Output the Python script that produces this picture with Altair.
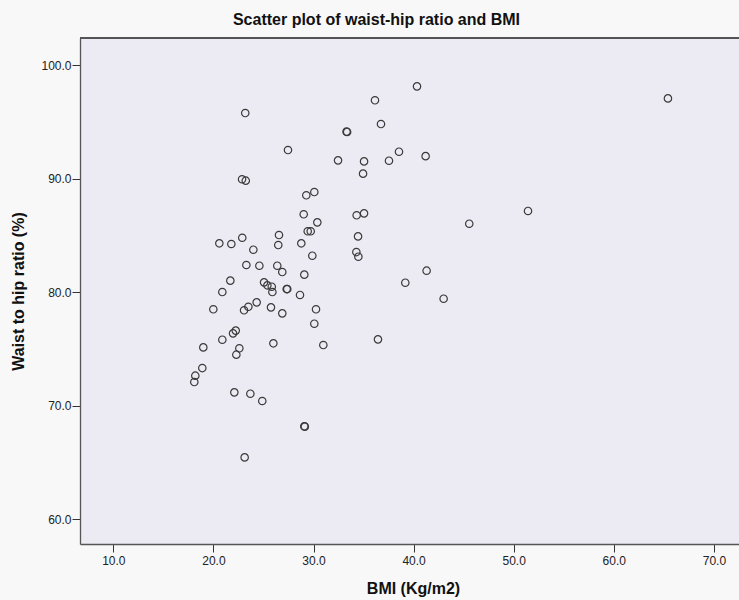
import altair as alt
import pandas as pd

bmi = [23.18, 36.14, 36.74, 33.30, 33.36, 27.45, 38.54, 32.45, 35.05, 37.54,
       34.95, 22.86, 23.23, 29.28, 30.08, 29.02, 30.38, 34.31, 35.05, 29.42,
       29.72, 26.55, 34.45, 22.88, 40.34, 65.41, 41.20, 51.43, 45.56, 34.28,
       34.48, 41.30, 39.17, 43.00, 36.44, 20.59, 21.79, 26.48, 28.78, 23.99,
       29.88, 23.29, 24.59, 26.38, 26.88, 29.08, 21.69, 25.06, 25.39, 25.83,
       25.89, 27.32, 27.38, 28.65, 20.89, 19.99, 23.06, 23.49, 24.32, 25.75,
       26.88, 30.25, 30.08, 21.96, 22.23, 20.89, 25.99, 30.98, 18.99, 22.59,
       22.29, 18.89, 18.19, 18.09, 22.09, 23.69, 24.88, 29.08, 29.13, 23.12]

whr = [95.77, 96.89, 94.80, 94.13, 94.10, 92.51, 92.36, 91.60, 91.51, 91.57,
       90.43, 89.93, 89.81, 88.52, 88.81, 86.85, 86.14, 86.76, 86.93, 85.35,
       85.35, 85.02, 84.90, 84.78, 98.12, 97.06, 91.97, 87.14, 86.02, 83.52,
       83.11, 81.88, 80.82, 79.41, 75.83, 84.29, 84.23, 84.14, 84.29, 83.73,
       83.20, 82.38, 82.32, 82.32, 81.76, 81.53, 81.00, 80.85, 80.59, 80.47,
       80.00, 80.26, 80.26, 79.74, 80.00, 78.48, 78.39, 78.70, 79.09, 78.65,
       78.12, 78.48, 77.21, 76.36, 76.60, 75.80, 75.48, 75.33, 75.12, 75.04,
       74.48, 73.30, 72.63, 72.07, 71.16, 71.04, 70.40, 68.17, 68.14, 65.43]

x_ticks = [10, 20, 30, 40, 50, 60, 70]
y_ticks = [60, 70, 80, 90, 100]

df = pd.DataFrame({"bmi": bmi, "whr": whr})

W, H = 659, 506
FONT = "Liberation Sans"
FRAME = "#555555"

points = alt.Chart(df).mark_point(
    shape="circle", filled=False, size=55, strokeWidth=1.2, color="#3a3a3a", opacity=1
).encode(
    x=alt.X("bmi:Q",
            scale=alt.Scale(domain=[6.67, 72.51], nice=False, zero=False),
            axis=alt.Axis(values=x_ticks, format=".1f", title="BMI (Kg/m2)",
                          grid=False, domainColor=FRAME, domainWidth=1.3,
                          tickColor="#333333", tickSize=8, tickWidth=1,
                          labelFont=FONT, labelFontSize=12, labelColor="#222222",
                          labelPadding=3,
                          titleFont=FONT, titleFontSize=16, titleFontWeight="bold",
                          titleColor="#111111", titleX=333, titleY=44,
                          titleBaseline="middle", titleAlign="center")),
    y=alt.Y("whr:Q",
            scale=alt.Scale(domain=[57.80, 102.38], nice=False, zero=False),
            axis=alt.Axis(values=y_ticks, format=".1f", title="Waist to hip ratio (%)",
                          grid=False, domainColor=FRAME, domainWidth=1.3,
                          tickColor="#333333", tickSize=8, tickWidth=1,
                          labelFont=FONT, labelFontSize=12, labelColor="#222222",
                          labelPadding=1,
                          titleFont=FONT, titleFontSize=16, titleFontWeight="bold",
                          titleColor="#111111", titleX=-62, titleY=H / 2,
                          titleAngle=-90, titleBaseline="middle", titleAlign="center")),
)

top_border = alt.Chart(df).mark_rule(color=FRAME, strokeWidth=1.3).encode(
    x=alt.value(0), x2=alt.value(W), y=alt.value(0)
)

chart = alt.layer(points, top_border).properties(
    width=W, height=H,
    autosize="none",
    padding={"left": 80, "top": 38, "right": 0, "bottom": 56},
    background="#f8f8f9",
    title=alt.TitleParams(
        "Scatter plot of waist-hip ratio and BMI",
        font=FONT, fontSize=16, fontWeight="bold", color="#111111",
        anchor="middle", dx=-33, dy=16, offset=12, baseline="alphabetic",
    ),
).configure_view(fill="#ecebf3", stroke=None)

chart.save("out.html", embed_options={"renderer": "svg", "actions": False})
